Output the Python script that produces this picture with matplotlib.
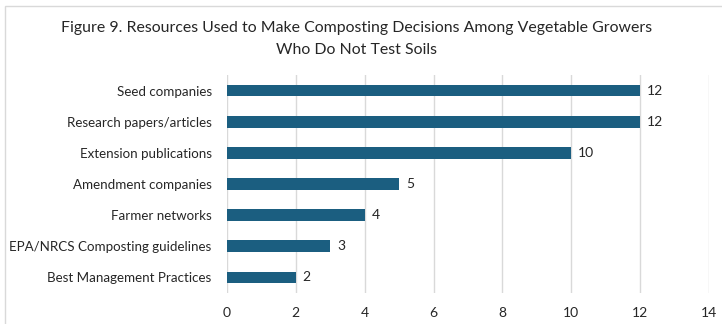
import matplotlib
matplotlib.use("Agg")
import matplotlib.pyplot as plt
from matplotlib.patches import Rectangle

plt.rcParams["font.family"] = ["Lato", "DejaVu Sans"]

# data (bottom to top)
categories = ["Best Management Practices", "EPA/NRCS Composting guidelines",
              "Farmer networks", "Amendment companies", "Extension publications",
              "Research papers/articles", "Seed companies"]
counts = [2, 3, 4, 5, 10, 12, 12]
xticks = [0, 2, 4, 6, 8, 10, 12, 14]

bar_color = "#1b5e80"
text_color = "#262626"

fig = plt.figure(figsize=(7.22, 3.24), dpi=100)
ax = fig.add_axes([0.3144, 0.0957, 0.982 - 0.3144, 0.7685 - 0.0957])

bars = ax.barh(range(len(categories)), counts, height=0.38, color=bar_color, zorder=3)
for b, v in zip(bars, counts):
    ax.text(b.get_width() + 0.2, b.get_y() + b.get_height() / 2, str(v),
            va="center", ha="left", fontsize=10, color=text_color)

ax.set_yticks(range(len(categories)))
ax.set_yticklabels(categories, fontsize=9.6, color=text_color)
ax.set_xticks(xticks)
ax.set_xticklabels([str(t) for t in xticks], fontsize=10, color=text_color)
ax.set_xlim(0, 14)
ax.set_ylim(-0.5, len(categories) - 0.5)
ax.grid(axis="x", color="#d9d9d9", linewidth=1, zorder=0)
for s in ax.spines.values():
    s.set_visible(False)
ax.tick_params(axis="y", length=0, pad=11)
ax.tick_params(axis="x", length=0, pad=10)

fig.text(0.494, 0.915, "Figure 9. Resources Used to Make Composting Decisions Among Vegetable Growers",
         ha="center", va="center", fontsize=11.4, color=text_color)
fig.text(0.494, 0.847, "Who Do Not Test Soils",
         ha="center", va="center", fontsize=11.4, color=text_color)

# chart frame
fig.patches.append(Rectangle((5 / 722, -0.1), 1.1, 1 - 6 / 324 + 0.1, transform=fig.transFigure,
                             fill=False, edgecolor="#d9d9d9", linewidth=1))

fig.savefig("out.png", dpi=100)
